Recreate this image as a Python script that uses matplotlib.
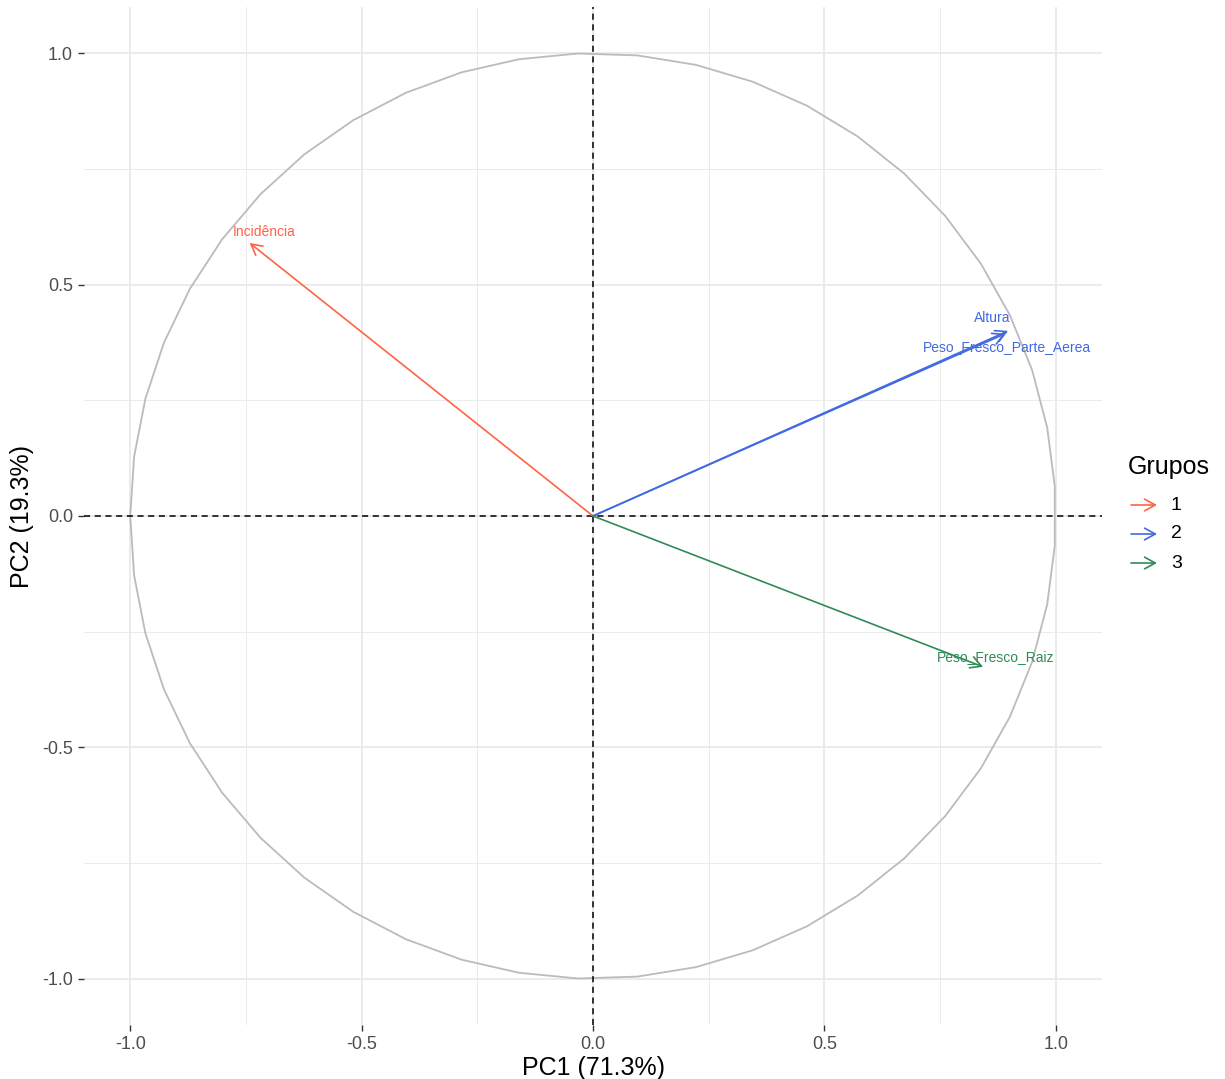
import numpy as np
import matplotlib
matplotlib.use("Agg")
import matplotlib.pyplot as plt
from matplotlib.ticker import MultipleLocator

plt.rcParams['font.family'] = ['Liberation Sans', 'DejaVu Sans']

variables = ["Incidência", "Altura", "Peso_Fresco_Parte_Aerea", "Peso_Fresco_Raiz"]
pc1 = [-0.742, 0.897, 0.891, 0.843]
pc2 = [0.590, 0.400, 0.394, -0.326]
groups = ["1", "2", "2", "3"]
label_x = [-0.711, 0.863, 0.895, 0.871]
label_y = [0.614, 0.428, 0.365, -0.305]
group_names = ["1", "2", "3"]
group_colors = {"1": "#FF6347", "2": "#4169E1", "3": "#2E8B57"}
x_label = "PC1 (71.3%)"
y_label = "PC2 (19.3%)"
legend_title = "Grupos"
ticks = [-1.0, -0.5, 0.0, 0.5, 1.0]

W, H = 1225, 1079
fig = plt.figure(figsize=(W / 100, H / 100), dpi=100)
ax = fig.add_axes([84 / W, 1 - 1025 / H, 1018 / W, 1018 / H])
ax.set_xlim(-1.1, 1.1)
ax.set_ylim(-1.1, 1.1)

for s in ax.spines.values():
    s.set_visible(False)
ax.set_xticks(ticks)
ax.set_yticks(ticks)
ax.set_xticklabels([f"{t:.1f}" for t in ticks])
ax.set_yticklabels([f"{t:.1f}" for t in ticks])
ax.xaxis.set_minor_locator(MultipleLocator(0.25))
ax.yaxis.set_minor_locator(MultipleLocator(0.25))
ax.grid(which='major', color='#EBEBEB', linewidth=1.4)
ax.grid(which='minor', color='#EBEBEB', linewidth=0.7)
ax.tick_params(which='major', length=4, width=1, color='#333333',
               labelsize=13, labelcolor='#4D4D4D', pad=4)
ax.tick_params(which='minor', length=0)
ax.set_axisbelow(True)

# unit circle (polygon of 50 points, starting at the left)
theta = np.pi + np.linspace(0, 2 * np.pi, 50)
ax.plot(np.cos(theta), np.sin(theta), color='#BBBBBB', linewidth=1.3, zorder=2)

ax.axhline(0, color='black', linestyle=(0, (4, 3)), linewidth=1.1, zorder=3)
ax.axvline(0, color='black', linestyle=(0, (4, 3)), linewidth=1.1, zorder=3)

astyle = '->,head_length=0.55,head_width=0.3'
for v, x, y, g, lx, ly in zip(variables, pc1, pc2, groups, label_x, label_y):
    c = group_colors[g]
    ax.annotate("", xy=(x, y), xytext=(0, 0),
                arrowprops=dict(arrowstyle=astyle,
                                color=c, lw=1.2, shrinkA=0, shrinkB=0,
                                mutation_scale=14), zorder=4)
    ax.text(lx, ly, v, color=c, fontsize=10, ha='center', va='center', zorder=5)

ax.set_xlabel(x_label, fontsize=18, labelpad=2)
ax.set_ylabel(y_label, fontsize=18, labelpad=6)

# legend
fig.text(1128 / W, 1 - 467 / H, legend_title, fontsize=18, ha='left', va='center')
for i, g in enumerate(group_names):
    yy = 1 - (505 + 29 * i) / H
    fig.patches.append(matplotlib.patches.FancyArrowPatch(
        (1131 / W, yy), (1157 / W, yy), transform=fig.transFigure,
        arrowstyle=astyle, color=group_colors[g],
        lw=1.2, mutation_scale=14, shrinkA=0, shrinkB=0))
    fig.text(1171 / W, yy, g, fontsize=14, ha='left', va='center')

fig.savefig("out.png", dpi=100)
